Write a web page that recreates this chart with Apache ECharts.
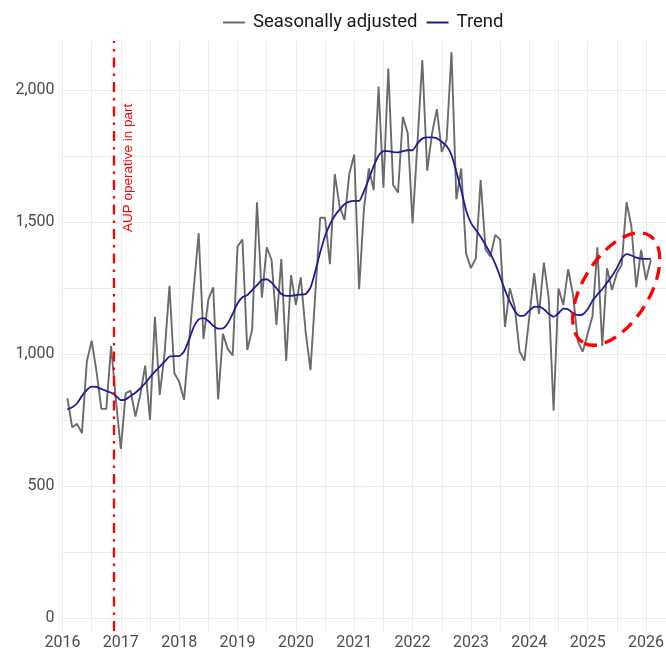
<!DOCTYPE html>
<html>
<head>
<meta charset="utf-8">
<script src="https://cdn.jsdelivr.net/npm/echarts@6/dist/echarts.min.js"></script>
<style>
html, body { margin: 0; padding: 0; background: #fff; }
#container { width: 666px; height: 650px; }
</style>
</head>
<body>
<div id="container"></div>
<script>
// monthly series, first point is Feb 2016
var firstYear = 2016
var firstMonth = 2

var seasonal = [
	832, 722, 735, 700, 971, 1050, 933, 792, 792, 1030, 820,
	640, 851, 861, 763, 845, 956, 750, 1141, 845, 1003, 1258, 927, 895,
	826, 1040, 1250, 1457, 1057, 1207, 1252, 828, 1076, 1018, 994, 1407,
	1434, 1015, 1091, 1575, 1213, 1404, 1356, 1110, 1360, 973, 1299, 1186,
	1290, 1085, 939, 1230, 1516, 1516, 1340, 1681, 1558, 1508, 1684, 1756,
	1245, 1552, 1703, 1621, 2013, 1630, 2082, 1640, 1612, 1899, 1836, 1495,
	1800, 2114, 1694, 1836, 1928, 1766, 1811, 2143, 1586, 1703, 1381, 1325,
	1362, 1659, 1396, 1369, 1451, 1434, 1103, 1249, 1179, 1009, 975, 1140,
	1306, 1152, 1346, 1211, 785, 1248, 1186, 1321, 1223, 1047, 1009, 1076,
	1144, 1404, 1030, 1325, 1242, 1306, 1337, 1575, 1483, 1252, 1394, 1280,
	1356
]

var trend = [
	790, 798, 813, 841, 864, 876, 875, 867, 860, 853, 841,
	825, 828, 841, 853, 870, 889, 912, 933, 952, 971, 990, 992, 992,
	1009, 1053, 1103, 1131, 1136, 1125, 1107, 1096, 1097, 1116, 1152, 1192,
	1215, 1223, 1242, 1261, 1280, 1283, 1270, 1249, 1227, 1220, 1220, 1223,
	1225, 1227, 1251, 1314, 1385, 1447, 1491, 1524, 1548, 1567, 1577, 1580,
	1580, 1617, 1663, 1712, 1751, 1769, 1769, 1765, 1764, 1769, 1772, 1772,
	1798, 1816, 1821, 1821, 1817, 1804, 1788, 1754, 1691, 1621, 1545, 1497,
	1470, 1444, 1413, 1381, 1341, 1293, 1242, 1198, 1164, 1144, 1146, 1164,
	1178, 1179, 1169, 1152, 1141, 1154, 1172, 1169, 1154, 1147, 1150, 1169,
	1202, 1225, 1245, 1270, 1295, 1325, 1362, 1378, 1373, 1365, 1361, 1360,
	1360
]

var yearTicks = [2016, 2017, 2018, 2019, 2020, 2021, 2022, 2023, 2024, 2025, 2026]
var yLabelTicks = [0, 500, 1000, 1500, 2000]
var yGridTicks = [0, 250, 500, 750, 1000, 1250, 1500, 1750, 2000]

// annotations
var aupDate = 2016.88
var aupText = 'AUP operative in part'
var aupTextValue = 1705
var ringCenter = [2025.49, 1246]

function toPairs(values){
	var out = []
	for (var i = 0; i < values.length; i++){
		out.push([firstYear + (firstMonth - 1 + i) / 12, values[i]])
	}
	return out
}

var dom = document.getElementById('container')
var myChart = echarts.init(dom, null, {renderer: 'canvas'})

var gridColor = '#ebebeb'
var labelFont = 'Roboto'
var greyColor = '#6b6b6b'
var navyColor = '#1d1d99'

option = {
	animation: false,
	backgroundColor: '#fff',
	textStyle: { fontFamily: labelFont },
	legend: {
		top: 8,
		left: 218,
		icon: 'rect',
		itemWidth: 22,
		itemHeight: 2,
		itemGap: 9,
		textStyle: { fontSize: 18.5, color: '#1a1a1a', fontFamily: labelFont, padding: [0, 0, 0, 3] },
		data: ['Seasonally adjusted', 'Trend']
	},
	grid: {
		top: 41,
		left: 62.5,
		right: 0,
		bottom: 19,
		outerBoundsMode: 'none'
	},
	xAxis: {
		type: 'value',
		min: 2016,
		max: 2026.343,
		interval: 0.5,
		axisLine: { show: false },
		axisTick: { show: false },
		splitLine: { show: true, lineStyle: { color: gridColor, width: 1 } },
		axisLabel: {
			customValues: yearTicks,
			color: '#4d4d4d',
			fontSize: 16,
			margin: 4,
			formatter: function (v) { return String(Math.round(v)) }
		}
	},
	yAxis: {
		type: 'value',
		min: -50,
		max: 2186,
		axisLine: { show: false },
		axisTick: { show: false, customValues: yGridTicks },
		splitLine: { show: true, lineStyle: { color: gridColor, width: 1 } },
		axisLabel: {
			customValues: yLabelTicks,
			color: '#4d4d4d',
			fontSize: 16,
			margin: 8,
			formatter: function (v) { return v.toLocaleString('en-US') }
		}
	},
	series: [
		{
			name: 'Seasonally adjusted',
			type: 'line',
			symbol: 'none',
			data: toPairs(seasonal),
			lineStyle: { color: greyColor, width: 1.9 },
			itemStyle: { color: greyColor },
			z: 2,
			markLine: {
				silent: true,
				symbol: 'none',
				label: { show: false },
				lineStyle: { color: '#ff0000', width: 2.3, type: [10, 6, 2.5, 6] },
				data: [{ xAxis: aupDate }]
			}
		},
		{
			name: 'Trend',
			type: 'line',
			symbol: 'none',
			smooth: 0.2,
			data: toPairs(trend),
			lineStyle: { color: navyColor, width: 1.8 },
			itemStyle: { color: navyColor },
			z: 3
		}
	]
}

myChart.setOption(option, true)

// place text + ellipse from data coords
var textPos = myChart.convertToPixel({gridIndex: 0}, [aupDate, aupTextValue])
var ringPos = myChart.convertToPixel({gridIndex: 0}, ringCenter)

myChart.setOption({
	graphic: [
		{
			type: 'text',
			x: textPos[0] + 14,
			y: textPos[1],
			rotation: Math.PI / 2,
			silent: true,
			style: {
				text: aupText,
				fill: '#ff0000',
				font: '13.5px "Liberation Sans", Arial, sans-serif',
				align: 'center',
				verticalAlign: 'middle'
			}
		},
		{
			type: 'ellipse',
			x: ringPos[0],
			y: ringPos[1],
			rotation: 58 * Math.PI / 180,
			silent: true,
			shape: { cx: 0, cy: 0, rx: 63, ry: 33 },
			style: { fill: 'none', stroke: '#ff0000', lineWidth: 3.3, lineDash: [13, 8] },
			z: 100
		}
	]
})
</script>
</body>
</html>
